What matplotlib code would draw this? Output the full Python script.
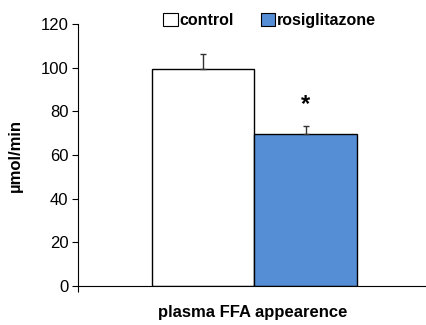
import numpy as np
import matplotlib as mpl
mpl.use('Agg')
import matplotlib.pyplot as plt
from matplotlib.patches import Patch

#
#--- data
#
groups  = ['control', 'rosiglitazone']
values  = [99.5, 69.5]
errors  = [7.0, 4.0]
colors  = ['white', '#558ED5']
yticks  = [0, 20, 40, 60, 80, 100, 120]
sig_pos = [1, 83]

plt.rcParams['font.family'] = ['Liberation Sans', 'DejaVu Sans']

fig = plt.figure(figsize=(4.27, 3.25), dpi=100)
ax  = fig.add_axes([0.183, 0.12, 0.817, 0.806])

xpos = np.arange(len(groups))
ax.bar(xpos, values, width=1.0, color=colors, edgecolor='black', linewidth=1.0, zorder=2)
ax.errorbar(xpos, values, yerr=[[0, 0], errors], fmt='none', ecolor='#333333',
            elinewidth=1.0, capsize=2.5, capthick=1.0, zorder=3)
ax.text(sig_pos[0], sig_pos[1], '*', ha='center', va='center', fontsize=17, fontweight='bold')

ax.set_xlim(-1.218, 2.184)
ax.set_ylim(0, 120)
ax.set_yticks(yticks)
ax.set_xticks([-1.218])
ax.set_xticklabels([''])
ax.tick_params(axis='y', direction='out', length=4, labelsize=12, pad=3)
ax.tick_params(axis='x', direction='out', length=4)

ax.spines['top'].set_visible(False)
ax.spines['right'].set_visible(False)

ax.set_ylabel('µmol/min', fontsize=12, fontweight='bold')
ax.yaxis.set_label_coords(-0.18, 0.5)
ax.set_xlabel('plasma FFA appearence', fontsize=12, fontweight='bold')
ax.xaxis.set_label_coords(0.5, -0.103)
ax.xaxis.label.set_va('center')
ax.yaxis.label.set_va('center')

handles = [Patch(facecolor=c, edgecolor='black', linewidth=0.8) for c in colors]
leg = ax.legend(handles, groups, loc='center', bbox_to_anchor=(0.549, 1.015),
                ncol=2, frameon=False, handlelength=0.9, handleheight=0.9,
                handletextpad=0.1, columnspacing=1.7, prop={'weight': 'bold', 'size': 11.5})

fig.savefig('out.png', dpi=100)
